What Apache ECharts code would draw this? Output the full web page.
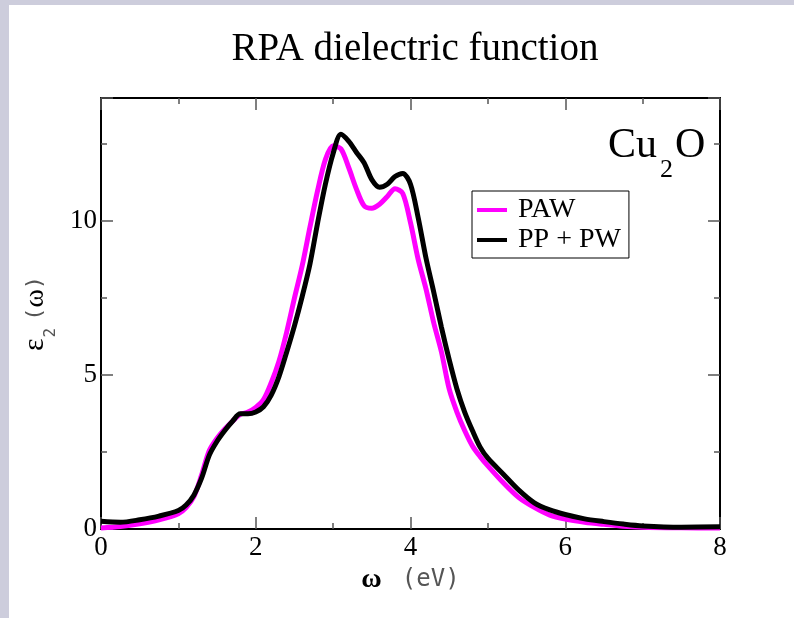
<!DOCTYPE html>
<html>
<head>
<meta charset="utf-8">
<title>RPA dielectric function</title>
<script src="https://cdn.jsdelivr.net/npm/echarts@6/dist/echarts.min.js"></script>
<style>html,body{margin:0;padding:0;background:#fff;}</style>
</head>
<body>
<div id="main" style="width:794px;height:618px;"></div>
<script>
// photon energy (eV)
var omega = [0, 0.25, 0.5, 0.75, 1.0, 1.1, 1.2, 1.3, 1.4, 1.5, 1.6, 1.7, 1.8, 1.9,
    2.0, 2.1, 2.2, 2.3, 2.4, 2.5, 2.6, 2.7, 2.8, 2.9, 3.0, 3.1, 3.2, 3.3, 3.4, 3.5,
    3.6, 3.7, 3.8, 3.9, 4.0, 4.1, 4.2, 4.3, 4.4, 4.5, 4.6, 4.7, 4.8, 4.9, 5.0, 5.2,
    5.4, 5.6, 5.8, 6.0, 6.25, 6.5, 6.75, 7.0, 7.5, 8.0];
// eps2, PAW
var paw = [0.03, 0.08, 0.17, 0.30, 0.50, 0.70, 1.05, 1.75, 2.55, 2.95, 3.25, 3.50, 3.72, 3.80,
    3.95, 4.20, 4.75, 5.45, 6.40, 7.50, 8.55, 9.80, 11.0, 12.0, 12.45, 12.35, 11.75, 11.05, 10.5, 10.42,
    10.55, 10.8, 11.05, 10.9, 9.95, 8.75, 7.8, 6.7, 5.75, 4.55, 3.8, 3.2, 2.7, 2.35, 2.05, 1.5,
    1.02, 0.70, 0.45, 0.32, 0.22, 0.15, 0.09, 0.06, 0.04, 0.03];
// eps2, PP + PW
var ppw = [0.25, 0.22, 0.30, 0.42, 0.60, 0.78, 1.10, 1.65, 2.40, 2.85, 3.20, 3.50, 3.74, 3.74,
    3.80, 3.97, 4.35, 4.95, 5.75, 6.60, 7.55, 8.60, 9.95, 11.2, 12.2, 12.82, 12.6, 12.24, 11.9, 11.35,
    11.10, 11.2, 11.45, 11.55, 11.2, 10.1, 8.8, 7.7, 6.55, 5.5, 4.55, 3.8, 3.2, 2.66, 2.3, 1.78,
    1.26, 0.85, 0.62, 0.47, 0.33, 0.24, 0.16, 0.10, 0.06, 0.07];

var seriesNames = ['PAW', 'PP + PW'];
var xMin = 0, xMax = 8, xStep = 2;
var yMin = 0, yMax = 14, yStep = 5, yMinorStep = 2.5;

var serif = '"Liberation Serif", "Times New Roman", serif';
var mono = '"DejaVu Sans Mono", "Liberation Mono", monospace';

function pairs(ys) {
    var out = [];
    for (var i = 0; i < omega.length; i++) out.push([omega[i], ys[i]]);
    return out;
}

var tickStyle = {color: '#555', width: 1.5};
var lineStyle = {color: '#000', width: 2};

function xAx(pos, labels) {
    return {
        type: 'value', position: pos, min: xMin, max: xMax, interval: xStep,
        axisLine: {onZero: false, lineStyle: lineStyle},
        axisTick: {inside: true, length: 12, lineStyle: tickStyle},
        minorTick: {show: true, splitNumber: 2, length: 6, lineStyle: tickStyle},
        splitLine: {show: false},
        axisLabel: {show: labels, margin: 5, color: '#000', fontFamily: serif, fontSize: 27}
    };
}
function yAx(pos, step, len, main, labels) {
    return {
        type: 'value', position: pos, min: yMin, max: yMax, interval: step,
        axisLine: {show: main, onZero: false, lineStyle: lineStyle},
        axisTick: {inside: true, length: len, lineStyle: tickStyle},
        splitLine: {show: false},
        axisLabel: {
            show: labels, margin: 4, color: '#000', fontFamily: serif, fontSize: 27,
            formatter: function (v) { return v % yStep === 0 ? String(v) : ''; }
        }
    };
}

var xBottom = xAx('bottom', true);
xBottom.name = '{w|ω}{u|(eV)}';
xBottom.nameLocation = 'middle';
xBottom.nameGap = 32;
xBottom.nameTextStyle = {
    rich: {
        w: {fontFamily: serif, fontWeight: 'bold', fontSize: 28, color: '#000'},
        u: {fontFamily: mono, fontSize: 24, color: '#555', padding: [0, 0, 0, 20]}
    }
};

var yLeft = yAx('left', yStep, 12, true, true);
yLeft.name = '{e|ε}{s|2}{p|(}{w|ω}{p|)}';
yLeft.nameLocation = 'middle';
yLeft.nameGap = 38;
yLeft.nameTextStyle = {
    rich: {
        e: {fontFamily: serif, fontSize: 30, color: '#000', lineHeight: 47, verticalAlign: 'middle'},
        s: {fontFamily: mono, fontSize: 16, color: '#555', lineHeight: 16, verticalAlign: 'bottom', padding: [0, 7, 0, 1]},
        p: {fontFamily: mono, fontSize: 22, color: '#555', lineHeight: 47, verticalAlign: 'middle'},
        w: {fontFamily: serif, fontSize: 28, color: '#000', lineHeight: 47, verticalAlign: 'middle'}
    }
};

var chart = echarts.init(document.getElementById('main'));
chart.setOption({
    backgroundColor: '#fff',
    animation: false,
    title: {
        text: 'RPA dielectric function',
        left: 410, top: 25, textAlign: 'center',
        textStyle: {fontFamily: serif, fontWeight: 'normal', fontSize: 39, color: '#000'}
    },
    grid: {left: 101, right: 74, top: 98, bottom: 89, outerBoundsMode: 'none'},
    legend: {
        data: seriesNames,
        orient: 'vertical', left: 472, top: 191,
        icon: 'rect', itemWidth: 30, itemHeight: 4, itemGap: 2,
        padding: [5, 8, 4, 5],
        borderColor: '#000', borderWidth: 1,
        textStyle: {fontFamily: serif, fontSize: 28, color: '#000', lineHeight: 24, padding: [0, 0, 0, 6]}
    },
    xAxis: [xBottom, xAx('top', false)],
    yAxis: [
        yLeft,
        yAx('left', yMinorStep, 6, false, false),
        yAx('right', yStep, 12, true, false),
        yAx('right', yMinorStep, 6, false, false)
    ],
    graphic: [
        {type: 'rect', shape: {x: 0, y: 0, width: 9, height: 618}, style: {fill: '#cdcddc'}},
        {type: 'rect', shape: {x: 0, y: 0, width: 794, height: 5}, style: {fill: '#cdcddc'}},
        {type: 'text', x: 608, y: 146, style: {text: 'Cu', font: '42px ' + serif, fill: '#000', verticalAlign: 'middle'}},
        {type: 'text', x: 660, y: 170, style: {text: '2', font: '26px ' + serif, fill: '#000', verticalAlign: 'middle'}},
        {type: 'text', x: 675, y: 146, style: {text: 'O', font: '42px ' + serif, fill: '#000', verticalAlign: 'middle'}}
    ],
    series: [
        {name: seriesNames[0], type: 'line', data: pairs(paw), showSymbol: false, smooth: 0.3,
            lineStyle: {color: '#ff00ff', width: 5}, itemStyle: {color: '#ff00ff'}},
        {name: seriesNames[1], type: 'line', data: pairs(ppw), showSymbol: false, smooth: 0.3,
            lineStyle: {color: '#000', width: 5}, itemStyle: {color: '#000'}}
    ]
});
</script>
</body>
</html>
